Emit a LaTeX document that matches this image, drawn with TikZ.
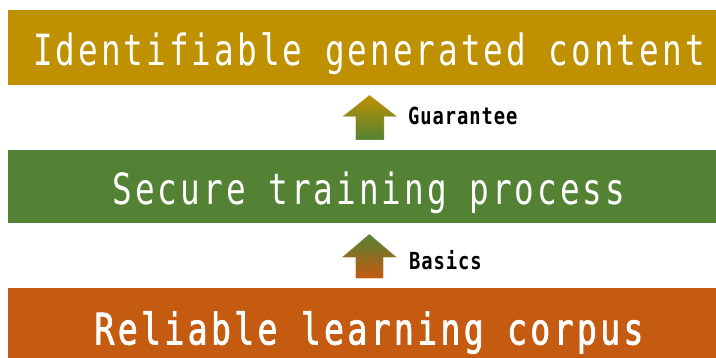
\documentclass[tikz,border=0pt]{standalone}
\usepackage{fontspec}
\newfontfamily\gothmono[FakeStretch=0.76,LetterSpace=7]{DejaVu Sans Mono}
\newfontfamily\gothheavy[FakeStretch=0.76,LetterSpace=7.8,FakeBold=1.6]{DejaVu Sans Mono}
\newfontfamily\gothlabel[FakeStretch=0.8,LetterSpace=4]{DejaVu Sans Mono}
\definecolor{goldbar}{HTML}{BF9000}
\definecolor{greenbar}{HTML}{548235}
\definecolor{orangebar}{HTML}{C55A11}
\tikzset{
  bar/.style={rectangle, inner sep=0pt, anchor=south west, minimum width=708pt},
  bartext/.style={anchor=base, text=white, inner sep=0pt, font=\gothmono\fontsize{43}{50}\selectfont},
  lbl/.style={anchor=base west, inner sep=0pt, text=black, font=\gothlabel\bfseries\fontsize{23.5}{28}\selectfont},
}
\begin{document}
\begin{tikzpicture}[x=1pt,y=1pt]
\useasboundingbox (0,0) rectangle (716,358);
% bars
\node[bar, fill=goldbar, minimum height=75pt] (top) at (8,273) {};
\node[bar, fill=greenbar, minimum height=73pt] (mid) at (8,135) {};
\node[bar, fill=orangebar, minimum height=70pt] (bot) at (8,0) {};
% bar texts
\node[bartext] (toptext) at (369,292) {Identifiable generated content};
\node[bartext] (midtext) at (369,153) {Secure training process};
\node[bartext, font=\gothheavy\fontsize{43.5}{50}\selectfont] (bottext) at (369,13.5) {Reliable learning corpus};
% arrows
\shade[top color=goldbar, bottom color=greenbar]
  (355.7,218) -- (355.7,241.3) -- (342.3,241.3) -- (369.5,263) -- (397.3,241.3) -- (384,241.3) -- (384,218) -- cycle;
\draw[white, opacity=0.35, line width=0.5pt]
  (355.7,218) -- (355.7,241.3) -- (342.3,241.3) -- (369.5,263) -- (397.3,241.3) -- (384,241.3) -- (384,218) -- cycle;
\shade[top color=greenbar, bottom color=orangebar]
  (355.7,79.7) -- (355.7,100.7) -- (342,100.7) -- (369.3,124) -- (396.7,100.7) -- (383.3,100.7) -- (383.3,79.7) -- cycle;
\draw[white, opacity=0.35, line width=0.5pt]
  (355.7,79.7) -- (355.7,100.7) -- (342,100.7) -- (369.3,124) -- (396.7,100.7) -- (383.3,100.7) -- (383.3,79.7) -- cycle;
% labels
\node[lbl] (guar) at (408,233) {Guarantee};
\node[lbl] (basics) at (409,88.5) {Basics};
\end{tikzpicture}
\end{document}
